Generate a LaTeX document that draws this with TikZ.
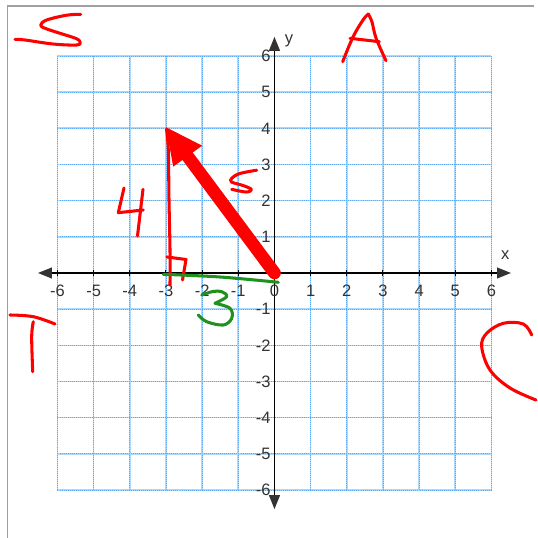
\documentclass[tikz,border=0pt]{standalone}
\usepackage{fontspec}
\setmainfont{Liberation Sans}
\usetikzlibrary{arrows.meta}
\definecolor{gridblue}{RGB}{170,215,250}
\definecolor{griddot}{RGB}{90,172,245}
\definecolor{labelgray}{RGB}{51,51,51}
\definecolor{penred}{RGB}{255,0,0}
\definecolor{pengreen}{RGB}{30,145,30}
\definecolor{framegray}{RGB}{160,160,160}
\begin{document}
\begin{tikzpicture}[x=1cm,y=1cm,
  gridline/.style={draw=gridblue, line width=1.3pt},
  griddots/.style={draw=griddot, line width=0.6pt, densely dotted},
  axisline/.style={draw=black, line width=1.2pt,
    {Triangle[length=11pt,width=8.5pt,color=labelgray]}-{Triangle[length=11pt,width=8.5pt,color=labelgray]}},
  tickmark/.style={draw=black, line width=0.8pt},
  ticklabel/.style={text=labelgray, font=\fontsize{13}{15}\selectfont, inner sep=0pt},
  pen/.style={draw=penred, line width=2.4pt, line cap=round, line join=round},
  greenpen/.style={draw=pengreen, line width=2.4pt, line cap=round, line join=round},
  pxscope/.style={shift={(-7.589,7.548)}, x=0.027647cm, y=-0.027647cm}
]
% bounding box and frame (pixel coordinates)
\begin{scope}[pxscope]
  \path[use as bounding box] (0,0) rectangle (534,538);
  \coordinate (frameA) at (7.5,538);
  \coordinate (frameB) at (7.5,6);
  \coordinate (frameC) at (534,6);
  \draw[framegray, line width=1.2pt] (frameA) -- (frameB) -- (frameC);
\end{scope}

% grid
\foreach \i in {-6,...,6}{
  \draw[gridline] (\i,-6) -- (\i,6);
  \draw[gridline] (-6,\i) -- (6,\i);
}
\foreach \i in {-6,...,6}{
  \draw[griddots] (\i,-6) -- (\i,6);
  \draw[griddots] (-6,\i) -- (6,\i);
}

% axes
\coordinate (xl) at (-6.54,0);
\coordinate (xr) at (6.54,0);
\coordinate (yb) at (0,-6.53);
\coordinate (yt) at (0,6.53);
\draw[axisline] (xl) -- (xr);
\draw[axisline] (yb) -- (yt);
\foreach \i in {-6,...,-1,1,2,...,6}{
  \draw[tickmark] (\i,-0.09) -- (\i,0.09);
}
\foreach \i in {-6,...,6}{
  \node[ticklabel, anchor=center] (xlab\i) at (\i,-0.5) {\i};
}
\foreach \i in {-6,...,-1,1,2,...,6}{
  \node[ticklabel, anchor=east] (ylab\i) at (-0.1,\i) {\i};
}
\node[ticklabel] (xname) at (6.38,0.5) {x};
\node[ticklabel] (yname) at (0.4,6.41) {y};

% red vector
\coordinate (O) at (0,0);
\coordinate (tip) at (-3,4.03);
\coordinate (hl) at (-2.0,3.52);
\coordinate (hr) at (-2.8,2.94);
\coordinate (hb) at (-2.5,3.36);
\draw[penred, line width=10pt, line cap=round] (O) -- (hb);
\fill[penred] (tip) -- (hl) -- (hr) -- cycle;

% handwriting (pixel coordinates)
\begin{scope}[pxscope]
  % S
  \draw[pen] plot[smooth, tension=0.6] coordinates {(80.7,14.3) (66.7,15.2) (46.7,20) (40.7,25) (45,28.3) (60,33.3) (76,38.5) (80,42) (76.7,45) (53,44) (25,40) (15,39.3)};
  % A
  \draw[pen] plot[smooth, tension=0.6] coordinates {(342.7,61.7) (353,37) (363,20) (368.3,14)};
  \draw[pen] plot[smooth, tension=0.6] coordinates {(368.3,14) (372,22) (376,38) (386,60.7)};
  \draw[pen] (350,38.3) -- (379.3,41.7);
  % T
  \draw[pen] plot[smooth, tension=0.6] coordinates {(10,315) (33.3,316.7) (55,324)};
  \draw[pen] plot[smooth, tension=0.6] coordinates {(33.3,321.7) (31.7,336.7) (32.7,371.7)};
  % C
  \draw[pen] plot[smooth, tension=0.6] coordinates {(531.7,335) (523.3,324) (503.3,323.3) (486.7,333.3) (481.7,346.7) (490,370) (510,388) (536,400)};
  % 4
  \draw[pen] (124,188) -- (118.3,212.7) -- (143.3,210);
  \draw[pen] (143,189.3) -- (137.5,236);
  % 5 (hypotenuse label)
  \draw[pen] plot[smooth, tension=0.6] coordinates {(256.7,170.2) (240,173.5) (232,178) (231.5,182) (243,185.5) (251.5,189.5) (246,192) (231.7,189.3)};
  % vertical leg
  \draw[pen] plot[smooth, tension=0.6] coordinates {(166.5,129) (168.3,150) (169,200) (170,250) (170,285)};
  % right-angle mark
  \draw[pen] (167,257) -- (186,259.5) -- (182.5,280);
  % green leg
  \draw[greenpen] plot[smooth, tension=0.6] coordinates {(163.3,274.3) (220,277) (278.3,282.3)};
  % green 3
  \draw[greenpen] plot[smooth, tension=0.6] coordinates {(201.7,295) (213,291.5) (221.7,291.7) (226.7,296.7) (215,303.3)};
  \draw[greenpen] plot[smooth, tension=0.6] coordinates {(215,303.3) (230,308.3) (231.7,318.3) (223.3,325) (206.7,321.7) (198.3,315)};
\end{scope}
\end{tikzpicture}
\end{document}
